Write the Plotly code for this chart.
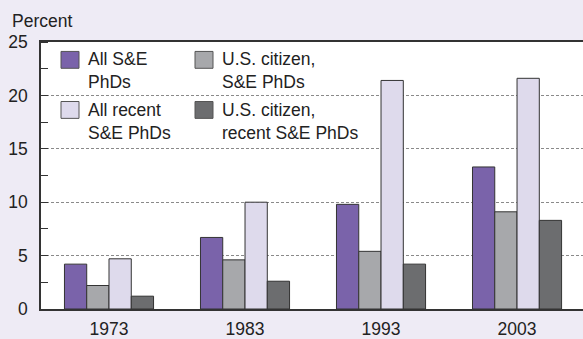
import plotly.graph_objects as go

years = ["1973", "1983", "1993", "2003"]
series_names = ["All S&E PhDs", "U.S. citizen, S&E PhDs", "All recent S&E PhDs", "U.S. citizen, recent S&E PhDs"]
legend_labels = ["All S&E<br>PhDs", "U.S. citizen,<br>S&E PhDs", "All recent<br>S&E PhDs", "U.S. citizen,<br>recent S&E PhDs"]
all_se = [4.2, 6.7, 9.8, 13.3]
us_se = [2.2, 4.6, 5.4, 9.1]
all_recent = [4.7, 10.0, 21.4, 21.6]
us_recent = [1.2, 2.6, 4.2, 8.3]
values = [all_se, us_se, all_recent, us_recent]
colors = ["#7A63AA", "#A7A8AB", "#DEDAEC", "#6C6D6F"]
y_ticks = [0, 5, 10, 15, 20, 25]

W, H = 583, 339
L, R, T, B = 41, 0, 41.5, 28.3
pw = W - L - R
ph = H - T - B
FONT = "Liberation Sans, Arial, sans-serif"
BG = "#EEEBF5"
FS = 17.5

def px(x):
    return (x - L) / pw

def py(y):
    return (H - B - y) / ph

fig = go.Figure()
for name, vals, col in zip(series_names, values, colors):
    fig.add_trace(go.Bar(x=years, y=vals, name=name, marker=dict(color=col, line=dict(color="#333333", width=1)),
                         showlegend=False, hoverinfo="skip"))

shapes = []
# legend background
shapes.append(dict(type="rect", xref="paper", yref="paper", x0=px(46), x1=px(371), y0=py(42), y1=py(141),
                   fillcolor="white", line=dict(width=0), layer="between"))
annotations = []
leg_pos = [(61, 51), (195, 51), (61, 101.5), (195, 101.5)]
for (lx, ly), col, lab in zip(leg_pos, colors, legend_labels):
    shapes.append(dict(type="rect", xref="paper", yref="paper", x0=px(lx), x1=px(lx + 18), y0=py(ly), y1=py(ly + 17),
                       fillcolor=col, line=dict(color="#555555", width=1), layer="above"))
    annotations.append(dict(text=lab, xref="paper", yref="paper", x=px(lx + 25), y=py(ly - 4),
                            xanchor="left", yanchor="top", align="left", showarrow=False,
                            font=dict(family=FONT, size=FS, color="#222222")))
annotations.append(dict(text="Percent", xref="paper", yref="paper", x=px(10), y=py(20), xanchor="left",
                        yanchor="middle", showarrow=False, font=dict(family=FONT, size=FS, color="#222222")))

fig.update_layout(
    width=W, height=H,
    margin=dict(l=L, r=R, t=T, b=B, pad=0),
    paper_bgcolor=BG, plot_bgcolor="white",
    barmode="group", bargap=0.345, bargroupgap=0,
    font=dict(family=FONT, size=FS, color="#222222"),
    shapes=shapes, annotations=annotations,
    xaxis=dict(range=[-0.5, 3.485], showgrid=False, ticks="", showline=True, linecolor="#333333",
               linewidth=1.5, mirror=True, tickfont=dict(size=FS), ticklabelstandoff=3, fixedrange=True),
    yaxis=dict(range=[0, 25], tickvals=y_ticks, showgrid=True, gridcolor="#8A8A8A", griddash="3px,2px",
               gridwidth=1, zeroline=False, showline=True, linecolor="#333333", linewidth=1.5, ticks="",
               ticklabelstandoff=8, tickfont=dict(size=FS), fixedrange=True,
               minor=dict(dtick=2.5, tick0=0, ticks="inside", ticklen=7, tickcolor="#333333", showgrid=False)),
    yaxis2=dict(range=[0, 25], overlaying="y", side="right", showgrid=False, zeroline=False,
                showticklabels=False, ticks="", showline=False, fixedrange=True,
                minor=dict(dtick=2.5, tick0=0, ticks="inside", ticklen=7, tickcolor="#333333", showgrid=False)),
)
fig.write_html("out.html", config={"displayModeBar": False},
               post_script="document.body.style.margin='0';document.body.style.overflow='hidden';"
                           "document.body.style.background='" + BG + "';")
